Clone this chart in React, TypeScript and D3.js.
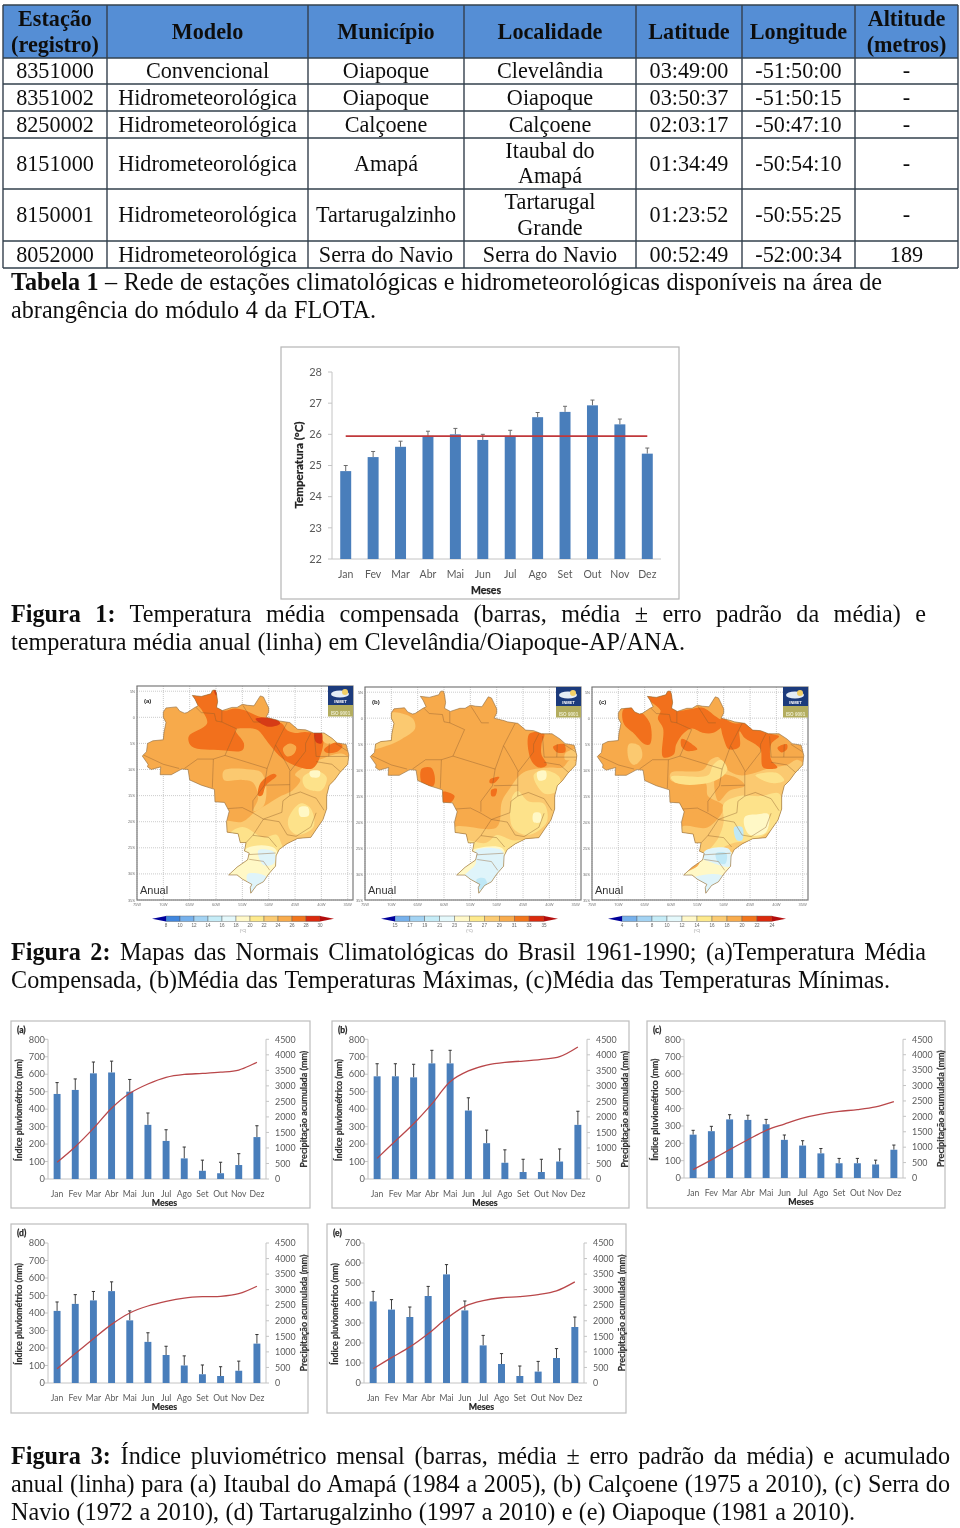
import React, { useLayoutEffect, useRef } from "react";
import * as d3 from "d3";

// ---------- table ----------
const tableHeader = [["Estação", "(registro)"], ["Modelo"], ["Município"], ["Localidade"], ["Latitude"], ["Longitude"], ["Altitude", "(metros)"]];
const tableRows = [
  [["8351000"], ["Convencional"], ["Oiapoque"], ["Clevelândia"], ["03:49:00"], ["-51:50:00"], ["-"]],
  [["8351002"], ["Hidrometeorológica"], ["Oiapoque"], ["Oiapoque"], ["03:50:37"], ["-51:50:15"], ["-"]],
  [["8250002"], ["Hidrometeorológica"], ["Calçoene"], ["Calçoene"], ["02:03:17"], ["-50:47:10"], ["-"]],
  [["8151000"], ["Hidrometeorológica"], ["Amapá"], ["Itaubal do", "Amapá"], ["01:34:49"], ["-50:54:10"], ["-"]],
  [["8150001"], ["Hidrometeorológica"], ["Tartarugalzinho"], ["Tartarugal", "Grande"], ["01:23:52"], ["-50:55:25"], ["-"]],
  [["8052000"], ["Hidrometeorológica"], ["Serra do Navio"], ["Serra do Navio"], ["00:52:49"], ["-52:00:34"], ["189"]],
];
const columnEdges = [3, 107, 308, 464, 636, 742, 855, 958];
const rowEdges = [5, 58, 84, 111, 138, 189, 241, 268];

// ---------- captions: [bold part, rest, x end, baseline] ----------
const captions: [string, string, number, number][] = [
  ["Tabela 1", " – Rede de estações climatológicas e hidrometeorológicas disponíveis na área de", 882, 290],
  ["", "abrangência do módulo 4 da FLOTA.", 376, 318],
  ["Figura 1:", " Temperatura média compensada (barras, média ± erro padrão da média) e", 926, 622],
  ["", "temperatura média anual (linha) em Clevelândia/Oiapoque-AP/ANA.", 685, 650],
  ["Figura 2:", " Mapas das Normais Climatológicas do Brasil 1961-1990; (a)Temperatura Média", 926, 960],
  ["", "Compensada, (b)Média das Temperaturas Máximas, (c)Média das Temperaturas Mínimas.", 890, 988],
  ["Figura 3:", " Índice pluviométrico mensal (barras, média ± erro padrão da média) e acumulado", 950, 1464],
  ["", "anual (linha) para (a) Itaubal do Amapá (1984 a 2005), (b) Calçoene (1975 a 2010), (c) Serra do", 950, 1492],
  ["", "Navio (1972 a 2010), (d) Tartarugalzinho (1997 a 2010) e (e) Oiapoque (1981 a 2010).", 855, 1520],
];

// ---------- charts ----------
const months = ["Jan", "Fev", "Mar", "Abr", "Mai", "Jun", "Jul", "Ago", "Set", "Out", "Nov", "Dez"];
const tempMean = [24.82, 25.27, 25.6, 25.95, 26.0, 25.82, 25.95, 26.55, 26.72, 26.93, 26.32, 25.38];
const tempTop = [25.0, 25.45, 25.78, 26.1, 26.19, 26.0, 26.13, 26.7, 26.9, 27.1, 26.49, 25.56];
const tempAnnual = 25.94;
const tempTicks = [22, 23, 24, 25, 26, 27, 28];

const rainA = [487, 510, 605, 610, 500, 310, 218, 118, 47, 33, 80, 240];
const rainTopA = [552, 573, 670, 675, 570, 378, 282, 183, 108, 96, 145, 305];
const accumA = [537, 1040, 1630, 2280, 2760, 3060, 3275, 3370, 3400, 3440, 3510, 3760];
const rainB = [588, 588, 582, 662, 662, 392, 205, 93, 40, 40, 100, 310];
const rainTopB = [660, 660, 657, 737, 737, 465, 280, 167, 113, 113, 172, 388];
const accumB = [665, 1225, 1780, 2420, 3135, 3480, 3670, 3760, 3800, 3855, 3940, 4250];
const rainC = [250, 270, 338, 335, 310, 220, 187, 142, 85, 85, 78, 163];
const rainTopC = [275, 298, 365, 362, 338, 248, 215, 170, 113, 113, 103, 190];
const accumC = [270, 590, 920, 1240, 1545, 1750, 1940, 2070, 2160, 2220, 2310, 2480];
const rainD = [412, 452, 472, 525, 358, 235, 160, 100, 50, 40, 70, 225];
const rainTopD = [463, 505, 523, 578, 412, 287, 210, 155, 103, 93, 125, 277];
const accumD = [460, 945, 1425, 1885, 2250, 2475, 2625, 2730, 2775, 2785, 2870, 3110];
const rainE = [408, 367, 330, 435, 543, 363, 188, 95, 35, 57, 125, 280];
const rainTopE = [458, 417, 380, 483, 592, 410, 238, 147, 85, 108, 172, 330];
const accumE = [460, 815, 1160, 1585, 2070, 2465, 2645, 2740, 2775, 2840, 2960, 3250];
const rainTicks800 = [0, 100, 200, 300, 400, 500, 600, 700, 800];
const rainTicks700 = [0, 100, 200, 300, 400, 500, 600, 700];
const accumTicks = [0, 500, 1000, 1500, 2000, 2500, 3000, 3500, 4000, 4500];

// ---------- maps (lon, lat) ----------
type P = [number, number];
const brazil: P[] = [[-74, -7.4], [-73.2, -6.6], [-73, -5], [-72, -4.5], [-70, -4.3], [-69.9, -3], [-69.5, -1], [-70, 0], [-70, 1], [-69.5, 1.8], [-67.5, 2], [-66.9, 1.2], [-66, 0.8], [-65.5, 0.9], [-64, 1.9], [-63.4, 2.2], [-64, 3.5], [-64.5, 4.2], [-62.8, 4], [-61, 4.5], [-60.6, 5.2], [-60.1, 5.2], [-59.9, 4.5], [-59.7, 3], [-59.9, 1.9], [-58.8, 1.3], [-57, 1.9], [-56, 1.9], [-55, 2.5], [-54, 2.3], [-52.8, 2.2], [-51.6, 4.1], [-51, 3.9], [-50, 1.8], [-50, 1], [-50.5, 0], [-48.5, -0.5], [-48, -0.7], [-46, -1], [-44.5, -2.3], [-43, -2.4], [-41.5, -3], [-39.5, -3], [-38, -4], [-37, -4.9], [-35.3, -5.2], [-34.8, -7.2], [-35, -9], [-36.5, -10.6], [-37.5, -12], [-38.5, -13], [-39, -15], [-39, -17.5], [-39.7, -19.6], [-41, -21.5], [-42, -23], [-44.5, -23.2], [-46.5, -24.2], [-48, -25.3], [-48.6, -26.5], [-48.7, -28.5], [-50, -30], [-51, -31.5], [-52.3, -32.2], [-53.4, -33.7], [-53.5, -32.6], [-53.2, -32], [-55, -31], [-56, -30.2], [-57.6, -30.2], [-56, -28.7], [-54, -27.3], [-53.7, -26], [-54.6, -25.6], [-54.3, -24], [-55.4, -24], [-55.8, -22.3], [-57.9, -22], [-58, -20], [-57.5, -18], [-58.4, -16.3], [-60.2, -16.2], [-60.3, -13.8], [-62.8, -13], [-65, -12], [-65.3, -10], [-66.5, -9.9], [-68.5, -11], [-70.6, -11], [-70.5, -9.5], [-72.3, -10], [-73, -9.5], [-72.9, -9], [-74, -7.4]];
const stateBorders: P[][] = [
  [[-63.9, 2], [-62.8, 0.9], [-60.3, 0.7], [-60, -0.7], [-58.9, -0.9], [-58.9, 1.3]],
  [[-58.9, -0.9], [-56.1, -2.2], [-58.3, -7.3]],
  [[-58.3, -7.3], [-60.5, -8], [-63.5, -8], [-66, -9.8]],
  [[-73.8, -7.2], [-70, -9], [-67, -9.8]],
  [[-58.3, -7.3], [-50.3, -9.8]],
  [[-60.5, -8], [-60.7, -13.5]],
  [[-58, -17.5], [-55, -17.3], [-53, -18.3], [-51, -19.5]],
  [[-53, -18], [-53, -16], [-50.8, -13], [-50.3, -9.8]],
  [[-54.9, 2.3], [-52.9, -0.9], [-51.5, -0.9]],
  [[-50.3, -9.8], [-48.7, -5.3], [-46.5, -1]],
  [[-48.7, -5.3], [-47.4, -7.5], [-46.3, -9.5], [-45.9, -10.3]],
  [[-50.5, -13], [-46, -12.9]],
  [[-46, -10.3], [-46, -15], [-44, -14.3], [-41, -15.5], [-39.5, -17.8]],
  [[-42, -3], [-43, -5], [-43, -6.5], [-45.9, -10.3]],
  [[-41.3, -3.5], [-41, -7.5]],
  [[-41, -8.5], [-38, -9], [-36.3, -10.5]],
  [[-38.5, -5], [-38.6, -7.5], [-41, -7.5]],
  [[-37.3, -5], [-35, -6.5]],
  [[-38.6, -7.5], [-34.9, -7.5]],
  [[-46, -15], [-47.3, -16], [-47.5, -18.2], [-51, -19.5]],
  [[-51, -19.5], [-48, -20], [-46.5, -22.5], [-44.8, -22.8]],
  [[-44.8, -22.8], [-42, -21], [-41, -18.3]],
  [[-53, -22.6], [-50, -23], [-48.5, -24.8]],
  [[-51, -19.5], [-53, -22.6]],
  [[-53.8, -26.3], [-48.7, -26]],
  [[-53.7, -27.2], [-51, -27.6], [-49.8, -29.3]],
  [[-53, -22.6], [-54.3, -24]],
];
const tone = { base: "#f7aa4c", light: "#fbc96f", yellow: "#fde28a", pale: "#fff8c6", ice: "#dff4fa", sky: "#bfe8f6", dark: "#f2701b", red: "#d63a12" };
type Zone = [keyof typeof tone, P[]];
const zonesA: Zone[] = [
  ["light", [[-60, -20], [-55, -20], [-52.5, -18], [-50, -16.5], [-47.5, -15], [-45.5, -14], [-44, -12], [-45, -11], [-44, -10], [-40, -8], [-36, -7], [-34, -9], [-38, -13], [-38, -18], [-42, -25], [-50, -27], [-60, -27]]],
  ["light", [[-58.5, -10.2], [-53.5, -10], [-51.5, -10.5], [-50.5, -13], [-51, -17], [-53, -18], [-52, -15.5], [-53, -12.5], [-55, -12], [-58.5, -12]]],
  ["yellow", [[-58, -23], [-55, -21], [-51, -23], [-48.5, -22.5], [-47, -25], [-44, -24], [-48, -28], [-50, -34], [-58, -34]]],
  ["yellow", [[-46.3, -19.5], [-44, -16.5], [-42, -17.5], [-41.5, -21], [-44.5, -22.5], [-46, -21.5]]],
  ["yellow", [[-43.5, -11.5], [-41, -10.3], [-39, -11.5], [-40, -14], [-43, -13.5]]],
  ["pale", [[-44.2, -17.3], [-42.6, -17.2], [-42.4, -18.8], [-44, -19]]],
  ["pale", [[-42.2, -10.4], [-40.3, -10.3], [-40.4, -11.4], [-42, -11.4]]],
  ["pale", [[-54, -25], [-49, -25], [-48, -28], [-50, -34], [-58, -31], [-56, -28]]],
  ["ice", [[-52, -25.5], [-49, -25.8], [-49, -28], [-51, -28.3]]],
  ["ice", [[-54, -30], [-50.5, -30.5], [-50.5, -32], [-53, -34], [-54, -32]]],
  ["dark", [[-64.9, 4.3], [-60.1, 5.3], [-58.9, 1.4], [-56.3, 1.7], [-54.7, 1.4], [-52, 0.2], [-50, -0.3], [-47.5, -1.2], [-46.5, -2.5], [-45, -3], [-43, -2.8], [-39.8, -3.7], [-40.5, -8.2], [-41.7, -9.8], [-44.3, -9.5], [-47.4, -7.9], [-50, -5], [-52.2, -2.4], [-54.7, -2.1], [-56.3, -2.4], [-54.7, -5], [-55, -6.3], [-58.9, -6.3], [-64.6, -5.6], [-65.2, -3.7], [-61.7, -1.2], [-62.7, 1.4]]],
  ["base", [[-46, -5], [-44.8, -5.6], [-45.2, -7], [-46.5, -7.5], [-47.3, -6]]],
  ["light", [[-40, -2.5], [-38, -3.2], [-36.5, -4.5], [-39, -5], [-40, -4]]],
  ["dark", [[-52, -15], [-51.5, -12.5], [-49, -10.8], [-48.5, -11.2], [-50.5, -13], [-51.3, -15]]],
  ["dark", [[-39.5, -6.2], [-37, -4.8], [-36, -5.5], [-37, -6.6], [-39, -6.8]]],
  ["red", [[-52.5, -0.3], [-49, -0.2], [-47.8, -1.2], [-50, -1.8]]],
  ["red", [[-41.3, -2.8], [-40, -2.8], [-40, -5], [-41, -4.8]]],
  ["red", [[-60.4, 5.3], [-59.7, 5], [-60, 4.2]]],
];
const zonesB: Zone[] = [
  ["light", [[-70, 1], [-66, 0], [-65.5, -2], [-68, -4], [-70, -5], [-74, -6], [-70, -2]]],
  ["light", [[-47.5, -13.5], [-45, -10.5], [-40, -9.5], [-37.5, -9.5], [-36, -8], [-34, -9], [-38, -13], [-38, -17], [-40, -22], [-44, -24], [-48, -25], [-58, -23.5], [-58, -21], [-50, -21], [-49, -16]]],
  ["light", [[-37, -6.8], [-35, -6], [-34, -7.5], [-37, -8]]],
  ["yellow", [[-58, -23.5], [-52, -24], [-50, -22.5], [-47, -23.5], [-44, -23.5], [-48, -27], [-50, -33], [-58, -33]]],
  ["yellow", [[-47, -15], [-46, -14], [-44, -16], [-41, -16.5], [-40.5, -20], [-44, -22.5], [-47, -21]]],
  ["yellow", [[-43, -11], [-41, -10], [-38, -11.5], [-38.5, -14], [-41, -14.5]]],
  ["pale", [[-43, -18.3], [-41.7, -18.3], [-41.7, -20], [-43, -20]]],
  ["pale", [[-42.3, -10.4], [-40.7, -10.2], [-40.7, -11.7], [-42, -12]]],
  ["pale", [[-56, -26], [-49, -25], [-48.3, -28], [-50, -33], [-53.5, -34], [-58, -30.5]]],
  ["ice", [[-54, -25.5], [-49, -25.5], [-48.8, -29], [-50, -33], [-53.3, -34], [-56.5, -31], [-54, -28]]],
  ["sky", [[-53.8, -31], [-52.3, -30.8], [-51.8, -32.3], [-53, -33], [-53.6, -32.5]]],
  ["dark", [[-64.3, -9.8], [-62.5, -9.5], [-61.8, -11], [-62, -13], [-64, -13]]],
  ["dark", [[-60.3, -14.2], [-58, -15], [-59, -16.5], [-60.3, -16.5]]],
  ["dark", [[-43.8, -3], [-41, -3], [-41.5, -5], [-41.5, -7], [-40.5, -9], [-42, -9.5], [-43.5, -8]]],
  ["dark", [[-39.3, -5.5], [-37.2, -5], [-37, -6.5], [-38.5, -6.6]]],
  ["dark", [[-51.3, -11.8], [-49.5, -11.3], [-50.5, -12.5], [-51.3, -12.5]]],
  ["dark", [[-51, -13.8], [-50, -13.6], [-50.3, -15], [-51, -15]]],
];
const zonesC: Zone[] = [
  ["light", [[-60, -10.5], [-54, -10], [-52.5, -8], [-51, -7.5], [-49.5, -9.8], [-47, -11], [-44, -10.5], [-41, -9.5], [-38, -9], [-36, -8], [-34, -10], [-38, -13], [-38, -18], [-42, -25], [-48, -27], [-58, -27], [-58, -21], [-53, -21], [-50, -17], [-53, -15], [-53.5, -12.5], [-60, -12]]],
  ["light", [[-68, -5], [-66, -5.3], [-65.5, -7.5], [-67, -9], [-68, -8]]],
  ["base", [[-60, -14], [-57, -14], [-55, -16], [-55.5, -18], [-58, -18]]],
  ["base", [[-51.5, -11], [-47.5, -11.5], [-46, -13], [-49, -14], [-51, -16]]],
  ["yellow", [[-60, -11.3], [-53, -11], [-52, -9], [-50.5, -8], [-49.3, -9.8], [-50, -11], [-53, -12.5], [-59, -12.5]]],
  ["yellow", [[-50, -16.5], [-47, -15], [-43, -15], [-39.5, -14.5], [-39, -18], [-41, -21.5], [-44.5, -23.5], [-48, -24], [-53, -26], [-51, -23], [-50, -20]]],
  ["yellow", [[-44, -11], [-40, -10.5], [-38.5, -12], [-41, -12.5]]],
  ["pale", [[-46, -19], [-43.5, -18.5], [-41.5, -18.5], [-42, -22], [-45, -22.5], [-46, -21]]],
  ["pale", [[-58, -30.5], [-55, -28.5], [-54, -27], [-48, -26], [-48.6, -28], [-50, -34], [-53, -34]]],
  ["ice", [[-53.5, -25.5], [-49, -25.2], [-48.8, -28.5], [-53, -27.5], [-54, -27]]],
  ["ice", [[-56.5, -31], [-52, -30], [-50, -30.5], [-50, -32], [-53.3, -34], [-54, -32]]],
  ["sky", [[-48, -21], [-46.5, -21], [-46.5, -23.5], [-47.5, -23.5]]],
  ["sky", [[-51.5, -26], [-49.5, -26], [-49.7, -28], [-51, -27.8]]],
  ["dark", [[-69, 1.7], [-66.5, 1.7], [-64, -1], [-64, -5], [-65, -5], [-67, -3], [-69, -1]]],
  ["dark", [[-64.5, 4], [-60.3, 5.3], [-59, 1.5], [-56.5, 1.7], [-54, 2], [-51.5, 0.3], [-50, -1], [-52, -2.8], [-54, -2.8], [-56, -2], [-57.5, -2.8], [-59, -5], [-59.5, -7], [-61.5, -7.5], [-61.5, -2], [-62.5, 0], [-62, 1.5]]],
  ["dark", [[-58, -4], [-56, -5], [-55, -6], [-57, -6.3], [-58, -5.5]]],
  ["dark", [[-50.5, 0], [-48, -1], [-46, -1], [-41, -3], [-39.5, -3.5], [-41, -5], [-41, -8], [-39.8, -9.5], [-42.5, -9.5], [-43, -6], [-44, -5], [-46, -3.8], [-47, -2.5], [-47, -5.5], [-49, -6], [-50, -4], [-50.5, -2]]],
  ["dark", [[-39.8, -5.7], [-38, -5], [-38, -6], [-39, -6.6]]],
];
const latTicks = [5, 0, -5, -10, -15, -20, -25, -30, -35];
const lonTicks = [-75, -70, -65, -60, -55, -50, -45, -40, -35];
const barColorsA = ["#3f86de", "#76b1ec", "#a3d3f3", "#c5ecf7", "#e4f8fb", "#fff8c8", "#fde98c", "#fbcb72", "#f8ac4e", "#f2761f", "#db2c10"];
const barLabelsA = ["8", "10", "12", "14", "16", "18", "20", "22", "24", "26", "28", "30"];
const barLabelsB = ["15", "17", "19", "21", "23", "25", "27", "29", "31", "33", "35"];
const barLabelsC = ["4", "6", "8", "10", "12", "14", "16", "18", "20", "22", "24"];

const SERIF = "'Liberation Serif', serif";
const SANS = "Lato, 'Open Sans', sans-serif";
const BAR = "#4a7ebb";
const RED = "#b9474a";
const AXIS = "#c4c4c4";
const TICK = "#5a5a5a";

function Caption({ bold, rest, end, y }: { bold: string; rest: string; end: number; y: number }) {
  const ref = useRef<SVGTextElement>(null);
  useLayoutEffect(() => {
    const t = ref.current!;
    t.style.wordSpacing = "0px";
    const gaps = (bold + rest).split(" ").length - 1;
    const len = t.getComputedTextLength();
    t.style.wordSpacing = `${(end - 11 - len) / gaps}px`;
  }, [bold, rest, end]);
  return (
    <text ref={ref} x={11} y={y} xmlSpace="preserve" fontFamily={SERIF} fontSize={24.2} fill="#111">
      {bold ? <tspan fontWeight="bold">{bold}</tspan> : null}
      {rest}
    </text>
  );
}

function DataTable() {
  const ctr = (i: number) => (columnEdges[i] + columnEdges[i + 1]) / 2;
  const cell = (lines: string[], c: number, r: number, bold: boolean) => {
    const mid = (rowEdges[r] + rowEdges[r + 1]) / 2;
    const step = r === 0 ? 26 : 25.5;
    return lines.map((s, i) => (
      <text key={i} x={ctr(c)} y={mid + 7 + (i - (lines.length - 1) / 2) * step} textAnchor="middle" fontFamily={SERIF} fontSize={22.2} fontWeight={bold ? "bold" : "normal"} fill="#111">
        {s}
      </text>
    ));
  };
  return (
    <g>
      <rect x={columnEdges[0]} y={rowEdges[0]} width={columnEdges[7] - columnEdges[0]} height={rowEdges[1] - rowEdges[0]} fill="#558ed5" />
      {tableHeader.map((h, c) => <g key={c}>{cell(h, c, 0, true)}</g>)}
      {tableRows.map((row, r) => <g key={r}>{row.map((l, c) => <g key={c}>{cell(l, c, r + 1, false)}</g>)}</g>)}
      {columnEdges.map((x, i) => <line key={i} x1={x} x2={x} y1={rowEdges[0]} y2={rowEdges[7]} stroke="#33404e" strokeWidth={1.4} />)}
      {rowEdges.map((y, i) => <line key={i} x1={columnEdges[0]} x2={columnEdges[7]} y1={y} y2={y} stroke="#33404e" strokeWidth={1.4} />)}
    </g>
  );
}

function TempChart() {
  const x = d3.scaleBand<string>().domain(months).range([332, 661]).paddingInner(0.6).paddingOuter(0.3);
  const y = d3.scaleLinear().domain([22, 28]).range([559, 372]);
  return (
    <g fontFamily={SANS}>
      <rect x={281} y={347} width={398} height={252} fill="#fff" stroke="#b5b5b5" strokeWidth={1.2} />
      <line x1={332} x2={332} y1={372} y2={559} stroke={AXIS} />
      <line x1={332} x2={661} y1={559} y2={559} stroke={AXIS} />
      {tempTicks.map((t) => (
        <g key={t}>
          <line x1={328} x2={332} y1={y(t)} y2={y(t)} stroke={AXIS} />
          <text x={322} y={y(t) + 3.8} textAnchor="end" fontSize={11} fill={TICK}>{t}</text>
        </g>
      ))}
      {months.map((m, i) => {
        const cx = x(m)! + x.bandwidth() / 2;
        return (
          <g key={m}>
            <line x1={cx} x2={cx} y1={y(tempTop[i])} y2={y(tempMean[i])} stroke="#6a6a6a" />
            <line x1={cx - 2} x2={cx + 2} y1={y(tempTop[i])} y2={y(tempTop[i])} stroke="#6a6a6a" />
            <rect x={x(m)} y={y(tempMean[i])} width={x.bandwidth()} height={559 - y(tempMean[i])} fill={BAR} />
            <text x={cx} y={578} textAnchor="middle" fontSize={10.5} fill={TICK}>{m}</text>
          </g>
        );
      })}
      <line x1={x("Jan")! + x.bandwidth() / 2} x2={x("Dez")! + x.bandwidth() / 2} y1={y(tempAnnual)} y2={y(tempAnnual)} stroke="#c0393b" strokeWidth={1.7} />
      <text transform="translate(303,465) rotate(-90)" textAnchor="middle" fontSize={10.5} fontWeight="bold" fill="#222" stroke="#222" strokeWidth={0.25} textLength={87} lengthAdjust="spacingAndGlyphs">Temperatura  (°C)</text>
      <text x={486} y={594} textAnchor="middle" fontSize={10.5} fontWeight="bold" fill="#222" stroke="#222" strokeWidth={0.25}>Meses</text>
    </g>
  );
}

type RainProps = { tag: string; frame: [number, number, number, number]; left: number; right: number; top: number; bottom: number; rain: number[]; rainTop: number[]; accum: number[]; rainTicks: number[]; };

function RainChart({ tag, frame, left, right, top, bottom, rain, rainTop, accum, rainTicks }: RainProps) {
  const x = d3.scaleBand<string>().domain(months).range([left, right]).paddingInner(0.62).paddingOuter(0.31);
  const y = d3.scaleLinear().domain([0, d3.max(rainTicks)!]).range([bottom, top]);
  const y2 = d3.scaleLinear().domain([0, 4500]).range([bottom, top]);
  const cx = (m: string) => x(m)! + x.bandwidth() / 2;
  const path = d3.line<number>().x((_, i) => cx(months[i])).y((v) => y2(v)).curve(d3.curveCatmullRom.alpha(0.5))(accum)!;
  return (
    <g fontFamily={SANS}>
      <rect x={frame[0]} y={frame[1]} width={frame[2] - frame[0]} height={frame[3] - frame[1]} fill="#fff" stroke="#bdbdbd" strokeWidth={1.2} />
      <text x={frame[0] + 6} y={frame[1] + 12} fontSize={8.5} fontWeight="bold" fill="#222" stroke="#222" strokeWidth={0.25}>{tag}</text>
      <line x1={left} x2={left} y1={top} y2={bottom} stroke={AXIS} />
      <line x1={right} x2={right} y1={top} y2={bottom} stroke={AXIS} />
      <line x1={left} x2={right} y1={bottom} y2={bottom} stroke={AXIS} />
      {rainTicks.map((t) => (
        <g key={t}>
          <line x1={left - 3} x2={left} y1={y(t)} y2={y(t)} stroke={AXIS} />
          <text x={left - 3} y={y(t) + 3.2} textAnchor="end" fontSize={9.3} fill={TICK}>{t}</text>
        </g>
      ))}
      {accumTicks.map((t) => (
        <g key={t}>
          <line x1={right} x2={right + 3} y1={y2(t)} y2={y2(t)} stroke={AXIS} />
          <text x={right + 9} y={y2(t) + 3.2} fontSize={8.9} fill={TICK}>{t}</text>
        </g>
      ))}
      {months.map((m, i) => (
        <g key={m}>
          <line x1={cx(m)} x2={cx(m)} y1={y(rainTop[i])} y2={y(rain[i])} stroke="#444" />
          <line x1={cx(m) - 1.6} x2={cx(m) + 1.6} y1={y(rainTop[i])} y2={y(rainTop[i])} stroke="#333" />
          <rect x={x(m)} y={y(rain[i])} width={x.bandwidth()} height={bottom - y(rain[i])} fill={BAR} />
          <text x={cx(m)} y={bottom + 18} textAnchor="middle" fontSize={8.6} fill={TICK}>{m}</text>
        </g>
      ))}
      <path d={path} fill="none" stroke={RED} strokeWidth={1.3} />
      <text transform={`translate(${left - 26.5},${(top + bottom) / 2 + 1}) rotate(-90)`} textAnchor="middle" fontSize={9.5} fontWeight="bold" fill="#333" stroke="#333" strokeWidth={0.2} textLength={102} lengthAdjust="spacingAndGlyphs">Índice pluviométrico (mm)</text>
      <text transform={`translate(${right + 41},${(top + bottom) / 2}) rotate(-90)`} textAnchor="middle" fontSize={9.5} fontWeight="bold" fill="#333" stroke="#333" strokeWidth={0.2} textLength={117} lengthAdjust="spacingAndGlyphs">Precipitação acumulada (mm)</text>
      <text x={(left + right) / 2 + 7.5} y={bottom + 26.5} textAnchor="middle" fontSize={8.8} fontWeight="bold" fill="#222" stroke="#222" strokeWidth={0.2}>Meses</text>
    </g>
  );
}

type MapProps = { id: string; tag: string; left: number; top: number; zones: Zone[]; barLabels: string[]; barLeft: number; barRight: number };

function BrazilMap({ id, tag, left, top, zones, barLabels, barLeft, barRight }: MapProps) {
  const right = left + 216;
  const bottom = 900;
  const lon = d3.scaleLinear().domain([-75, -34]).range([left, right]);
  const lat = d3.scaleLinear().domain([6, -35]).range([top, bottom]);
  const outline = d3.line<P>().x((d) => lon(d[0])).y((d) => lat(d[1]));
  const blob = d3.line<P>().x((d) => lon(d[0])).y((d) => lat(d[1])).curve(d3.curveCatmullRomClosed.alpha(0.5));
  const brazilPath = outline(brazil)! + "Z";
  const n = barLabels.length - 1;
  const barX = d3.scalePoint<string>().domain(barLabels).range([barLeft, barRight]);
  const colors = barColorsA.slice(barColorsA.length - n);
  const latText = (v: number) => (v === 0 ? "0" : v > 0 ? `${v}N` : `${-v}S`);
  return (
    <g fontFamily="'Liberation Sans', sans-serif">
      <clipPath id={id}><path d={brazilPath} /></clipPath>
      <rect x={left} y={top} width={216} height={bottom - top} fill="#fff" />
      {latTicks.map((t) => <line key={t} x1={left} x2={right} y1={lat(t)} y2={lat(t)} stroke="#b4b4b4" strokeWidth={0.7} strokeDasharray="1 1" />)}
      {lonTicks.map((t) => <line key={t} x1={lon(t)} x2={lon(t)} y1={top} y2={bottom} stroke="#b4b4b4" strokeWidth={0.7} strokeDasharray="1 1" />)}
      <path d={brazilPath} fill={tone.base} />
      <g clipPath={`url(#${id})`}>
        {zones.map(([c, pts], i) => <path key={i} d={blob(pts)!} fill={tone[c]} />)}
        {stateBorders.map((b, i) => <path key={i} d={outline(b)!} fill="none" stroke="#8d5f2e" strokeWidth={0.6} opacity={0.7} />)}
      </g>
      <path d={brazilPath} fill="none" stroke="#8d6a3c" strokeWidth={0.6} />
      <rect x={left} y={top} width={216} height={bottom - top} fill="none" stroke="#7a7a7a" strokeWidth={1.2} />
      {latTicks.map((t) => <text key={t} x={left - 2} y={lat(t) + 1.5} textAnchor="end" fontSize={4} fill="#777">{latText(t)}</text>)}
      {lonTicks.map((t) => <text key={t} x={lon(t)} y={bottom + 5.5} textAnchor="middle" fontSize={4} fill="#777">{`${-t}W`}</text>)}
      <text x={left + 7} y={top + 17} fontSize={6} fontWeight="bold" fill="#222">{tag}</text>
      <text x={left + 3} y={bottom - 6.5} fontSize={11} fill="#333">Anual</text>
      <g>
        <rect x={right - 25} y={top} width={25} height={19} fill="#1e3a7c" />
        <ellipse cx={right - 13} cy={top + 8} rx={9} ry={3.6} fill="#e6eef5" />
        <circle cx={right - 8} cy={top + 6} r={3} fill="#f2cf66" />
        <text x={right - 12.5} y={top + 17} textAnchor="middle" fontSize={4} fontWeight="bold" fill="#fff">INMET</text>
        <rect x={right - 25} y={top + 19} width={25} height={11.5} fill="#b3ad5e" />
        <text x={right - 12.5} y={top + 28.5} textAnchor="middle" fontSize={4.6} fontWeight="bold" fill="#ecebcf">ISO 9001</text>
      </g>
      {colors.map((c, i) => (
        <rect key={c} x={barX(barLabels[i])} y={916} width={barX(barLabels[i + 1])! - barX(barLabels[i])!} height={5.5} fill={c} stroke="#555" strokeWidth={0.4} />
      ))}
      <polygon points={`${barLeft - 14},918.7 ${barLeft},916 ${barLeft},921.5`} fill="#06069a" />
      <polygon points={`${barRight + 14},918.7 ${barRight},916 ${barRight},921.5`} fill="#b30f0f" />
      {barLabels.map((l) => <text key={l} x={barX(l)} y={927} textAnchor="middle" fontSize={4.6} fill="#666">{l}</text>)}
      <text x={(barLeft + barRight) / 2} y={932} textAnchor="middle" fontSize={3.6} fill="#888">(°C)</text>
    </g>
  );
}

export default function App() {
  return (
    <svg width={960} height={1528} viewBox="0 0 960 1528" style={{ position: "absolute", left: 0, top: 0, display: "block", background: "#fff" }}>
      <defs>
        <filter id="soft" x="-2%" y="-2%" width="104%" height="104%"><feGaussianBlur stdDeviation={0.3} /></filter>
        <filter id="softer" x="-2%" y="-2%" width="104%" height="104%"><feGaussianBlur stdDeviation={0.45} /></filter>
        <filter id="softest" x="-2%" y="-2%" width="104%" height="104%"><feGaussianBlur stdDeviation={0.55} /></filter>
      </defs>
      <g filter="url(#soft)">
        <DataTable />
        {captions.map((c, i) => <Caption key={i} bold={c[0]} rest={c[1]} end={c[2]} y={c[3]} />)}
      </g>
      <g filter="url(#softer)">
        <TempChart />
        <RainChart tag="(a)" frame={[11, 1021, 310, 1208]} left={48} right={266} top={1039.3} bottom={1179} rain={rainA} rainTop={rainTopA} accum={accumA} rainTicks={rainTicks800} />
        <RainChart tag="(b)" frame={[332, 1021, 629, 1208]} left={368} right={587} top={1039.3} bottom={1179} rain={rainB} rainTop={rainTopB} accum={accumB} rainTicks={rainTicks800} />
        <RainChart tag="(c)" frame={[647, 1021, 945, 1208]} left={684} right={903} top={1039.3} bottom={1178} rain={rainC} rainTop={rainTopC} accum={accumC} rainTicks={rainTicks800} />
        <RainChart tag="(d)" frame={[11, 1224, 308, 1413]} left={48} right={266} top={1243} bottom={1383} rain={rainD} rainTop={rainTopD} accum={accumD} rainTicks={rainTicks800} />
        <RainChart tag="(e)" frame={[327, 1224, 626, 1413]} left={364} right={584} top={1243} bottom={1383} rain={rainE} rainTop={rainTopE} accum={accumE} rainTicks={rainTicks700} />
      </g>
      <g filter="url(#softest)">
        <BrazilMap id="mapA" tag="(a)" left={137} top={686} zones={zonesA} barLabels={barLabelsA} barLeft={166} barRight={320} />
        <BrazilMap id="mapB" tag="(b)" left={365} top={687} zones={zonesB} barLabels={barLabelsB} barLeft={395} barRight={544} />
        <BrazilMap id="mapC" tag="(c)" left={592} top={687} zones={zonesC} barLabels={barLabelsC} barLeft={622} barRight={772} />
      </g>
    </svg>
  );
}
